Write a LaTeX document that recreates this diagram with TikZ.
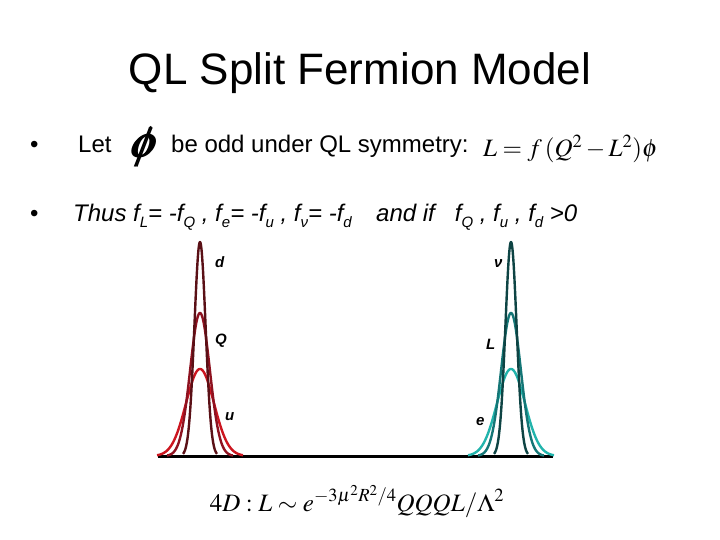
\documentclass[tikz,border=0pt]{standalone}
\usepackage{amsmath}
\usepackage{mathptmx}
\usepackage{fontspec}
\setmainfont{Liberation Sans}
\definecolor{cd}{HTML}{5A1016}
\definecolor{cq}{HTML}{8E1220}
\definecolor{cu}{HTML}{CC1620}
\definecolor{cnu}{HTML}{0E4444}
\definecolor{cl}{HTML}{147676}
\definecolor{ce}{HTML}{22B4AC}
\tikzset{
  txt/.style={inner sep=0pt, anchor=base west, font=\fontsize{24}{28}\selectfont},
  lab/.style={inner sep=0pt, anchor=base west, font=\fontsize{15}{18}\selectfont\bfseries\itshape},
  curve/.style={line width=2.4pt, line join=round},
}
\newcommand{\sbx}[1]{\raisebox{-0.22em}{\fontsize{15}{16}\selectfont #1}}
\begin{document}
\begin{tikzpicture}[x=1pt,y=-1pt]
\useasboundingbox (0,0) rectangle (720,540);
% title
\node[inner sep=0pt, anchor=base, font=\fontsize{44}{50}\selectfont] (title) at (360,85) {QL Split Fermion Model};
% bullet 1
\node[txt] (b1) at (30,153) {\textbullet};
\node[txt] (let) at (78,153) {Let};
\node[inner sep=0pt, anchor=base, xslant=0.22] (phi) at (143,158) {\fontsize{44}{46}\selectfont$\pmb{\phi}$};
\node[txt] (odd) at (171,153) {be odd under QL symmetry:};
\node[inner sep=0pt, anchor=base west, font=\fontsize{25}{30}\selectfont] (lag) at (483,157) {$L=f\,(Q^2-L^2)\phi$};
% bullet 2
\node[txt] (b2) at (30,222) {\textbullet};
\node[txt, font=\fontsize{24}{28}\selectfont\itshape] (thus) at (73,222) {Thus f\sbx{L}= -f\sbx{Q} , f\sbx{e}= -f\sbx{u} , f\sbx{ν}= -f\sbx{d}};
\node[txt, font=\fontsize{24}{28}\selectfont\itshape] (andif) at (376,222) {and if\ \ \ f\sbx{Q} , f\sbx{u} , f\sbx{d} >0};
% baseline axis
\coordinate (ax1) at (158,456);
\coordinate (ax2) at (553,456);
\draw[line width=3pt] (ax1) -- (ax2);
% left curves
\draw[curve, cu] plot[domain=157:243, samples=120] (\x, {456-87*exp(-((\x-200)^2)/(2*14^2))});
\draw[curve, cq] plot[domain=167:233, samples=120] (\x, {456-143*exp(-((\x-200)^2)/(2*9.8^2))});
\draw[curve, cd] plot[domain=183:217, samples=120] (\x, {456-214*exp(-((\x-200)^2)/(2*5.6^2))});
% right curves
\draw[curve, ce] plot[domain=468:554, samples=120] (\x, {456-87*exp(-((\x-511)^2)/(2*14^2))});
\draw[curve, cl] plot[domain=478:544, samples=120] (\x, {456-143*exp(-((\x-511)^2)/(2*9.8^2))});
\draw[curve, cnu] plot[domain=494:528, samples=120] (\x, {456-214*exp(-((\x-511)^2)/(2*5.6^2))});
% labels
\node[lab] (ld) at (215,267) {d};
\node[lab] (lq) at (215,344) {Q};
\node[lab] (lu) at (225,420) {u};
\node[lab] (lnu) at (494,267) {ν};
\node[lab] (ll) at (486,349) {L};
\node[lab] (le) at (476,425) {e};
% bottom formula
\node[inner sep=0pt, anchor=base, font=\fontsize{25}{30}\selectfont] (fourd) at (357,511) {$4D:L\sim e^{-3\mu^2R^2/4}QQQL/\Lambda^2$};
\end{tikzpicture}
\end{document}
